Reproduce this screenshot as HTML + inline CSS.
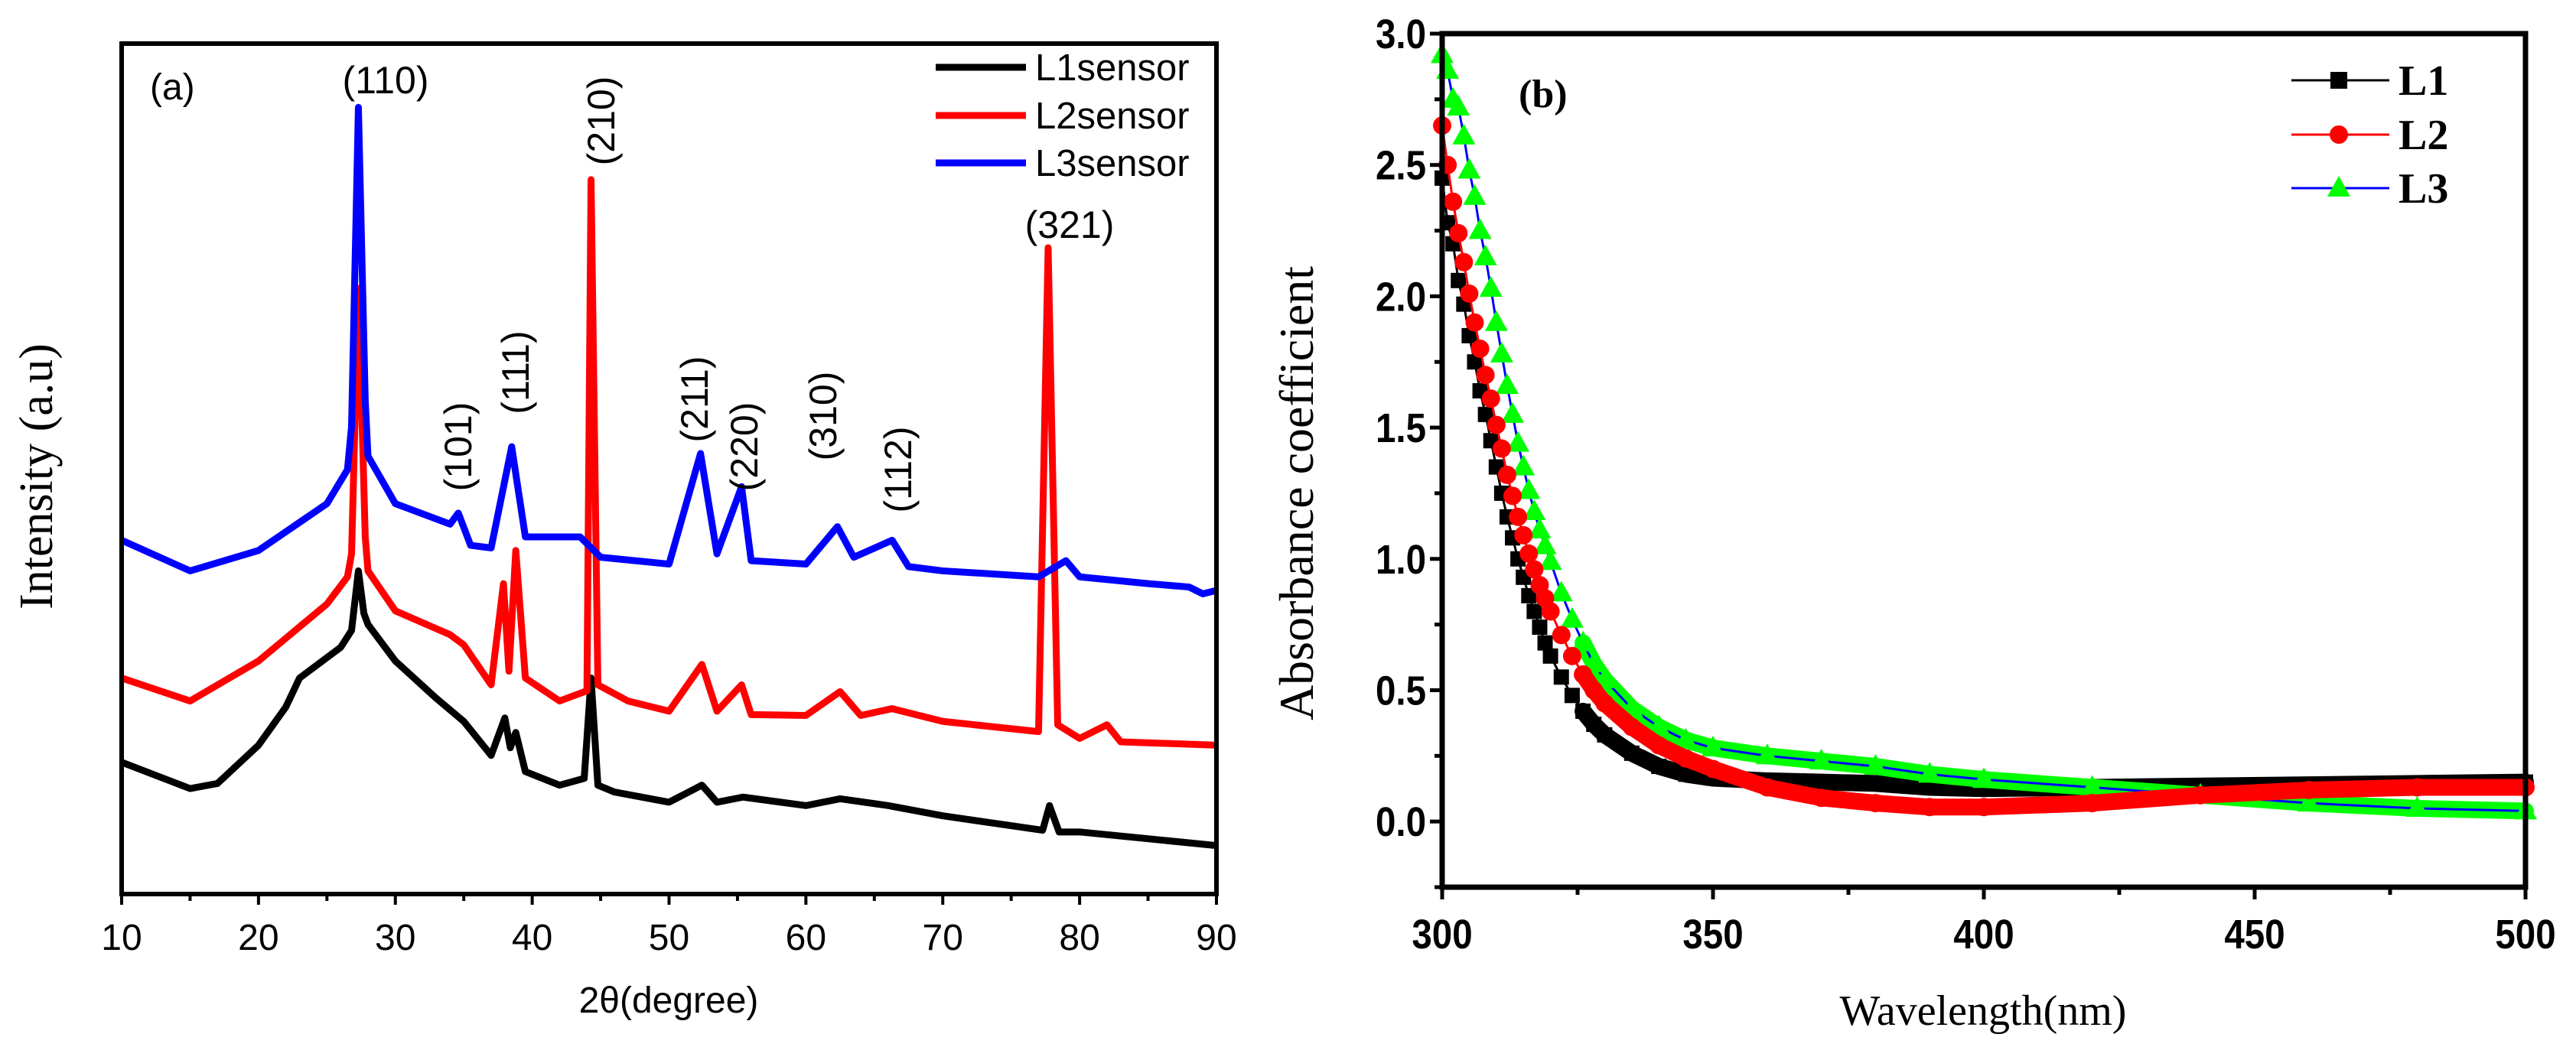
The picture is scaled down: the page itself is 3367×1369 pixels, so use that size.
<!DOCTYPE html>
<html><head><meta charset="utf-8"><style>
html,body{margin:0;padding:0;background:#fff;}
svg{display:block;}
</style></head><body>
<svg id="fig" width="3367" height="1369" viewBox="0 0 3367 1369" xmlns="http://www.w3.org/2000/svg">
<g id="pa"></g>
<g id="pb"></g>
</svg>
<script>
// ---------- Panel (a) data ----------
const l1X = [10,15,17,18,20,22,23,26,26.8,27.3,27.7,28,30,33,35,37,38,38.4,38.8,39.5,42,43.8,44.3,44.8,46,50,52.4,53.5,55.4,60,62.5,66,70,77.3,77.8,78.5,80,90];
const l1Y = [15.5,12.4,13,14.5,17.5,22,25.4,29,31,38,33,31.7,27.4,23,20.3,16.3,20.7,17.2,19,14.4,12.8,13.6,25.4,12.8,12,10.8,12.8,10.8,11.4,10.4,11.2,10.4,9.2,7.5,10.4,7.3,7.3,5.7];
const l2X = [10,15,20,25,26.5,26.8,27.3,27.8,28,30,34,35,37,37.9,38.3,38.8,39.5,42,44,44.3,44.8,47,50,52.4,53.5,55.3,56,60,62.5,64,66.3,70,77,77.7,78.4,80,82,83,90];
const l2Y = [25.4,22.7,27.4,34.1,37.3,40,71.2,42,38,33.3,30.5,29.3,24.6,36.5,26.2,40.4,25.4,22.7,23.9,84,24.6,22.7,21.5,27,21.5,24.6,21.1,21,23.8,21,21.8,20.3,19.1,76,19.9,18.3,19.9,17.9,17.5];
const l3X = [10,15,20,25,26.5,26.8,27.3,27.8,28,30,34,34.6,35.5,37,38.5,39.5,43.5,45,50,52.3,53.5,55.3,56,60,62.3,63.5,66.3,67.5,70,77,79,80,85,88,89,90];
const l3Y = [41.6,38,40.4,45.9,49.9,55,92.5,58,51.5,45.9,43.5,44.8,41,40.7,52.6,42,42,39.6,38.8,51.8,40,47.9,39.2,38.8,43.2,39.6,41.6,38.5,38,37.3,39.2,37.3,36.5,36.1,35.3,35.7];
const xTicksA = [10,20,30,40,50,60,70,80,90];
const peakLabels = ["(110)","(321)","(210)","(101)","(111)","(211)","(220)","(310)","(112)"];
const legendA = ["L1sensor","L2sensor","L3sensor"];
// ---------- Panel (b) data ----------
const wl = [300,301,302,303,304,305,306,307,308,309,310,311,312,313,314,315,316,317,318,319,320,322,324,326,328,330,335,340,345,350,360,370,380,390,400,420,440,460,480,500];
const abs1 = [2.45,2.28,2.2,2.06,1.97,1.85,1.75,1.64,1.55,1.45,1.35,1.25,1.16,1.08,1.0,0.93,0.86,0.8,0.74,0.68,0.63,0.55,0.48,0.42,0.37,0.33,0.26,0.21,0.18,0.165,0.155,0.15,0.145,0.13,0.125,0.13,0.135,0.14,0.145,0.15];
const abs2 = [2.65,2.5,2.36,2.24,2.13,2.01,1.9,1.8,1.7,1.61,1.51,1.42,1.32,1.24,1.16,1.09,1.02,0.96,0.9,0.85,0.8,0.71,0.63,0.56,0.5,0.45,0.36,0.29,0.24,0.2,0.13,0.09,0.07,0.055,0.055,0.07,0.1,0.12,0.13,0.13];
const abs3 = [2.92,2.86,2.75,2.72,2.61,2.48,2.38,2.25,2.15,2.03,1.9,1.78,1.66,1.55,1.44,1.35,1.26,1.18,1.11,1.05,0.99,0.87,0.77,0.68,0.6,0.54,0.43,0.36,0.31,0.28,0.25,0.23,0.21,0.18,0.16,0.13,0.1,0.07,0.05,0.04];
const xTicksB = [300,350,400,450,500];
const yTicksB = ["0.0","0.5","1.0","1.5","2.0","2.5","3.0"];
const legendB = ["L1","L2","L3"];

const NS="http://www.w3.org/2000/svg";
function mk(tag,attrs,parent,text){const e=document.createElementNS(NS,tag);for(const k in attrs)e.setAttribute(k,attrs[k]);if(text!==undefined)e.textContent=text;parent.appendChild(e);return e;}

// ===== Panel A =====
const pa=document.getElementById('pa');
const AL=159,AR=1590,AT=57,AB=1169;
const ax=v=>AL+(v-10)/80*(AR-AL);
const ay=v=>AB-v/100*(AB-AT);
const colorsA=["#000","#f00","#00f"];
[[l1X,l1Y],[l2X,l2Y],[l3X,l3Y]].forEach((s,i)=>{
  const p=mk('polyline',{points:s[0].map((x,j)=>ax(x)+','+ay(s[1][j])).join(' '),fill:'none',stroke:colorsA[i],'stroke-width':9,'stroke-linejoin':'round'},pa);
  
  
});
mk('rect',{x:AL,y:AT,width:AR-AL,height:AB-AT,fill:'none',stroke:'#000','stroke-width':6,},pa);
for(let v=10;v<=90;v+=5){
  const t=mk('line',{x1:ax(v),x2:ax(v),y1:AB,y2:AB+(v%10===0?14:9),stroke:'#000','stroke-width':4},pa);
  
  
}
xTicksA.forEach(v=>{
  const t=mk('text',{x:ax(v),y:1242,'text-anchor':'middle','font-family':'Liberation Sans, sans-serif','font-size':48},pa,String(v));
  
  
});
mk('text',{x:874,y:1324,'text-anchor':'middle','font-family':'Liberation Sans, sans-serif','font-size':48,},pa,'2θ(degree)');
mk('text',{x:0,y:0,transform:'translate(68,623) rotate(-90)','text-anchor':'middle','font-family':'Liberation Serif, serif','font-size':62,},pa,'Intensity (a.u)');
mk('text',{x:196,y:130,'font-family':'Liberation Sans, sans-serif','font-size':48,},pa,'(a)');
// peak labels
const horiz=[[504,122],[1398,311]];
const rot=[[786,158],[599,584],[674,487],[908,522],[973,584],[1076,544],[1174,614]];
peakLabels.forEach((lab,i)=>{
  let t;
  if(i<2){t=mk('text',{x:horiz[i][0],y:horiz[i][1],'text-anchor':'middle','font-family':'Liberation Sans, sans-serif','font-size':50},pa,lab);}
  else{const p=rot[i-2];t=mk('text',{x:0,y:0,transform:`translate(${p[0]+17},${p[1]}) rotate(-90)`,'text-anchor':'middle','font-family':'Liberation Sans, sans-serif','font-size':50},pa,lab);}
  
  
});
legendA.forEach((lab,i)=>{
  const y=[88,151,213][i];
  const g=mk('g',{},pa);
  
  
  mk('line',{x1:1223,x2:1341,y1:y,y2:y,stroke:colorsA[i],'stroke-width':9},g);
  mk('text',{x:1353,y:y+17,'font-family':'Liberation Sans, sans-serif','font-size':49},g,lab);
});

// ===== Panel B =====
const pb=document.getElementById('pb');
const BL=1885,BR=3301,BT=44,BB=1160;
const bx=v=>BL+(v-300)/200*(BR-BL);
const by=v=>BB-(v+0.25)/3.25*(BB-BT);
const series=[[abs1,'#000','#000','sq'],[abs3,'#00ff00','#0000ff','tri'],[abs2,'#f00','#f00','circ']];
series.forEach((s,i)=>{
  const pts=wl.map((w,j)=>bx(w)+','+by(s[0][j])).join(' ');
  const tailPts=wl.map((w,j)=>[w,bx(w)+','+by(s[0][j])]).filter(q=>q[0]>=326).map(q=>q[1]).join(' ');
  const band=mk('polyline',{points:tailPts,fill:'none',stroke:s[1],'stroke-width':22,'stroke-linejoin':'round','stroke-linecap':'round'},pb);
  
  
  const ln=mk('polyline',{points:pts,fill:'none',stroke:s[2],'stroke-width':3},pb);
  
  
  wl.forEach((w,j)=>{
    const cx=bx(w),cy=by(s[0][j]);let m;
    if(s[3]==='sq')m=mk('rect',{x:cx-10,y:cy-10,width:20,height:20,fill:'#000'},pb);
    else if(s[3]==='circ')m=mk('circle',{cx:cx,cy:cy,r:12,fill:'#f00'},pb);
    else m=mk('polygon',{points:`${cx},${cy-16} ${cx-15},${cy+11} ${cx+15},${cy+11}`,fill:'#00ff00'},pb);
    
    
  });
});
mk('rect',{x:BL,y:BT,width:BR-BL,height:BB-BT,fill:'none',stroke:'#000','stroke-width':7,},pb);
for(let v=300;v<=500;v+=25){
  const t=mk('line',{x1:bx(v),x2:bx(v),y1:BB,y2:BB+(v%50===0?16:10),stroke:'#000','stroke-width':5},pb);
  
  
}
for(let v=-0.25;v<=3.0001;v+=0.25){
  const major=Math.abs(v*2-Math.round(v*2))<1e-6;
  const t=mk('line',{x1:BL,x2:BL-(major?16:10),y1:by(v),y2:by(v),stroke:'#000','stroke-width':5},pb);
  
  
}
xTicksB.forEach(v=>{
  const t=mk('text',{x:bx(v),y:1240,'text-anchor':'middle','font-family':'Liberation Sans, sans-serif','font-weight':'bold','font-size':54,transform:`translate(${bx(v)},0) scale(0.88,1) translate(${-bx(v)},0)`},pb,String(v));
  
  
});
yTicksB.forEach(s=>{
  const t=mk('text',{x:1864,y:by(parseFloat(s))+19,'text-anchor':'end','font-family':'Liberation Sans, sans-serif','font-weight':'bold','font-size':54,transform:'translate(1864,0) scale(0.88,1) translate(-1864,0)'},pb,s);
  
  
});
mk('text',{x:2592,y:1340,'text-anchor':'middle','font-family':'Liberation Serif, serif','font-size':56,},pb,'Wavelength(nm)');
mk('text',{x:0,y:0,transform:'translate(1716,645) rotate(-90)','text-anchor':'middle','font-family':'Liberation Serif, serif','font-size':64,},pb,'Absorbance coefficient');
mk('text',{x:1985,y:140,'font-family':'Liberation Serif, serif','font-weight':'bold','font-size':52,},pb,'(b)');
const legCol=[['#000','#000','sq'],['#f00','#f00','circ'],['#0000ff','#00ff00','tri']];
legendB.forEach((lab,i)=>{
  const y=[105,176,246][i];
  const g=mk('g',{},pb);
  
  
  mk('line',{x1:2995,x2:3123,y1:y,y2:y,stroke:legCol[i][0],'stroke-width':3},g);
  const cx=3057;
  if(legCol[i][2]==='sq')mk('rect',{x:cx-11,y:y-11,width:22,height:22,fill:'#000'},g);
  else if(legCol[i][2]==='circ')mk('circle',{cx:cx,cy:y,r:12,fill:'#f00'},g);
  else mk('polygon',{points:`${cx},${y-16} ${cx-15},${y+11} ${cx+15},${y+11}`,fill:'#00ff00'},g);
  mk('text',{x:3135,y:y+19,'font-family':'Liberation Serif, serif','font-weight':'bold','font-size':56},g,lab);
});
</script>
</body></html>
